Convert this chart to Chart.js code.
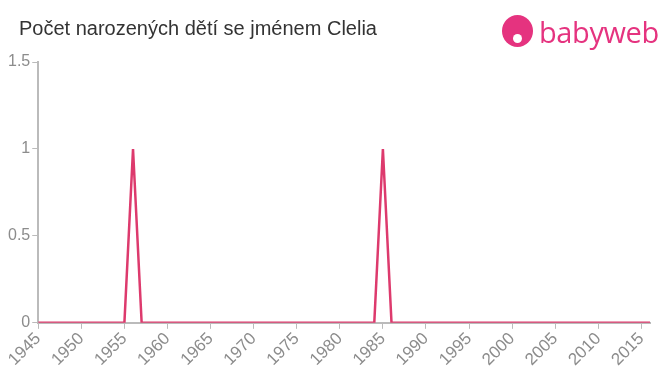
<!DOCTYPE html>
<html lang="cs">
<head>
    <meta charset="UTF-8">
    <title>Počet narozených dětí se jménem Clelia</title>
    <script src="https://cdn.jsdelivr.net/npm/chart.js"></script>
    <style>
        body { margin: 0; background: #fff; font-family: "Liberation Sans", Arial, sans-serif; }
        .wrap { position: relative; width: 660px; height: 375px; }
        .title { position: absolute; left: 19px; top: 17px; font-size: 20px; color: #333; }
        .logo { position: absolute; left: 502px; top: 15px; display: flex; align-items: center; }
        .logo .head { width: 31px; height: 32px; border-radius: 50%; background: #e5337f; position: relative; }
        .logo .head::after { content: ""; position: absolute; left: 11px; top: 19px; width: 9px; height: 9px; border-radius: 50%; background: #fff; }
        .logo .txt { font-family: "Open Sans", sans-serif; font-size: 29px; color: #e5337f; margin-left: 6px; letter-spacing: -0.4px; line-height: 1; }
        canvas { position: absolute; left: 0; top: 0; }
    </style>
</head>
<body>
    <div class="wrap">
        <canvas id="chart" width="660" height="375"></canvas>
        <div class="title">Počet narozených dětí se jménem Clelia</div>
        <div class="logo"><div class="head"></div><div class="txt">babyweb</div></div>
    </div>

    <script>
        // data
        const years = [];
        for (let y = 1945; y <= 2016; y++) years.push(y);
        const births = [
            0, 0, 0, 0, 0, 0, 0, 0, 0, 0, // 1945-1954
            0, 1, 0, 0, 0, 0, 0, 0, 0, 0, // 1955-1964
            0, 0, 0, 0, 0, 0, 0, 0, 0, 0, // 1965-1974
            0, 0, 0, 0, 0, 0, 0, 0, 0, 0, // 1975-1984
            1, 0, 0, 0, 0, 0, 0, 0, 0, 0, // 1985-1994
            0, 0, 0, 0, 0, 0, 0, 0, 0, 0, // 1995-2004
            0, 0, 0, 0, 0, 0, 0, 0, 0, 0, // 2005-2014
            0, 0                          // 2015-2016
        ];
        const yTicks = [0, 0.5, 1, 1.5];

        const axisColor = '#bbbbbb';
        const labelColor = '#8c8c8c';

        new Chart(document.getElementById('chart'), {
            type: 'line',
            data: {
                datasets: [{
                    data: years.map((y, i) => ({ x: y, y: births[i] })),
                    borderColor: '#dd3a6d',
                    borderWidth: 2.5,
                    pointRadius: 0,
                    tension: 0,
                    fill: false
                }]
            },
            options: {
                responsive: false,
                animation: false,
                layout: { padding: { top: 62, right: 10, left: 6, bottom: 5 } },
                plugins: { legend: { display: false }, tooltip: { enabled: false } },
                scales: {
                    x: {
                        type: 'linear',
                        min: 1945,
                        max: 2016,
                        afterBuildTicks: axis => {
                            axis.ticks = years.filter(y => y % 5 === 0).map(v => ({ value: v }));
                        },
                        grid: { display: true, drawOnChartArea: false, color: axisColor, tickLength: 6 },
                        border: { color: axisColor, width: 2 },
                        ticks: {
                            color: labelColor,
                            font: { size: 17, family: '"Liberation Sans", Arial, sans-serif' },
                            maxRotation: 45, minRotation: 45,
                            autoSkip: false,
                            padding: 0,
                            callback: v => String(v)
                        }
                    },
                    y: {
                        min: 0,
                        max: 1.5,
                        afterBuildTicks: axis => {
                            axis.ticks = yTicks.map(v => ({ value: v }));
                        },
                        grid: { display: true, drawOnChartArea: false, color: axisColor, tickLength: 6 },
                        border: { color: axisColor, width: 2 },
                        ticks: {
                            color: labelColor,
                            font: { size: 16, family: '"Liberation Sans", Arial, sans-serif' },
                            padding: 2,
                            callback: v => String(v)
                        }
                    }
                }
            }
        });
    </script>
</body>
</html>
